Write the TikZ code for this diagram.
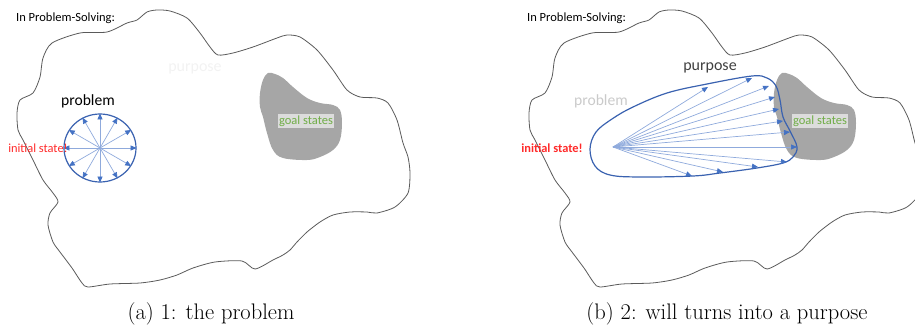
\documentclass[tikz,border=0pt]{standalone}
\usepackage{fontspec}
\newfontfamily\carl{Carlito}
\usetikzlibrary{arrows.meta,shapes.geometric}
\definecolor{outl}{HTML}{5A5A5A}
\definecolor{bdark}{HTML}{3A62B0}
\definecolor{blight}{HTML}{8FAADC}
\definecolor{btip}{HTML}{4472C4}
\definecolor{goalgray}{HTML}{A6A6A6}
\definecolor{goalbox}{HTML}{DCDCDC}
\definecolor{goalgreen}{HTML}{70AD47}
\definecolor{initred}{HTML}{FF2A2A}
\definecolor{faintgray}{HTML}{F2F2F2}
\definecolor{midgray}{HTML}{CACACA}
\definecolor{darkgray}{HTML}{404040}
\begin{document}
\begin{tikzpicture}[x=1pt,y=-1pt,
  outline/.style={draw=outl, line width=0.8pt},
  fanarrow/.style={draw=blight, line width=0.7pt, -{Triangle[length=6pt,width=5pt,color=btip]}},
  blueline/.style={draw=bdark, line width=1.2pt},
  goalblob/.style={fill=goalgray},
  sanslabel/.style={inner sep=0pt, font=\carl\fontsize{#1}{#1}\selectfont},
  goallabel/.style={fill=goalbox, text=goalgreen, inner sep=1.5pt, font=\carl\fontsize{12.5}{14}\selectfont},
  caption/.style={anchor=base, inner sep=0pt, font=\fontsize{22.5}{27}\selectfont}
]
\useasboundingbox (0,0) rectangle (915,324);
\begin{scope}
\clip (0,0) rectangle (915,324);
% outer outlines (same shape twice)
\foreach \dx in {0,512}{
\begin{scope}[xshift=\dx pt]
\draw[outline] plot[smooth cycle, tension=0.45] coordinates {
(52,43) (80,33) (107,32) (127,23) (137,20) (147,12) (157,10) (170,11) (187,18) (200,33) (210,47) (218,55) (233,53) (253,47) (277,38) (287,35) (300,37) (317,50) (333,70) (347,90) (360,97) (377,98) (388,103) (397,120) (403,143) (408,157) (410,173) (408,193) (395,207) (377,213) (367,212) (350,212) (333,215) (320,222) (307,232) (297,242) (290,250) (283,255) (273,260) (255,269) (242,261) (215,262) (193,268) (177,275) (160,280) (140,283) (110,284) (88,287) (82,283) (72,268) (60,252) (53,242) (48,225) (50,213) (58,202) (53,193) (43,180) (33,160) (23,140) (18,130) (17,113) (20,100) (33,93) (40,77) (43,58)};
\end{scope}}
% goal blobs
\foreach \dx in {0,514}{
\begin{scope}[xshift=\dx pt]
\fill[goalblob] plot[smooth cycle, tension=0.6] coordinates {
(268,73) (263,80) (260,93) (260,107) (263,117) (267,133) (273,150) (283,158) (307,160) (320,157) (333,150) (340,140) (342,123) (340,110) (333,105) (320,103) (307,98) (293,87) (283,78) (275,74)};
\end{scope}}
\end{scope}
% ---------- left panel ----------
\node[sanslabel=12.5, anchor=west] (ps1) at (16,18) {In Problem-Solving:};
\node[sanslabel=16, text=faintgray] (pur1) at (195,69) {purpose};
\node[sanslabel=15.6] (prob1) at (88,101) {problem};
\node[goallabel] (goal1) at (306,121) {goal states};
\node[draw=bdark, line width=1.2pt, ellipse, minimum width=72pt, minimum height=68pt, inner sep=0pt] (circ) at (100,148) {};
\foreach \a in {0,30,...,330}{
  \draw[fanarrow] (circ.center) -- (circ.\a);
}
\node[sanslabel=12.4, text=initred] (init1) at (38,148) {initial state!};
% ---------- right panel ----------
\node[sanslabel=12.5, anchor=west] (ps2) at (527,18) {In Problem-Solving:};
\node[sanslabel=16, text=darkgray] (pur2) at (710,68) {purpose};
\node[sanslabel=15.6, text=midgray] (prob2) at (601,101) {problem};
\node[goallabel] (goal2) at (820,121) {goal states};
\draw[blueline] plot[smooth cycle, tension=0.6] coordinates {
(590,149) (596,132) (612,119) (633,107) (667,93) (707,84) (752,76) (767,78) (776,86) (780,100) (783,117) (790,131) (797,147) (793,157) (783,163) (757,168) (720,173) (693,176) (640,177) (610,175) (595,166)};
\coordinate (o2) at (613,147);
\coordinate (f1) at (708,87);
\coordinate (f2) at (752,78);
\coordinate (f3) at (769,86);
\coordinate (f4) at (775,97);
\coordinate (f5) at (779,109);
\coordinate (f6) at (783,121);
\coordinate (f7) at (790,132);
\coordinate (f8) at (797,147);
\coordinate (f9) at (787,162);
\coordinate (f10) at (758,167);
\coordinate (f11) at (723,172);
\coordinate (f12) at (692,176);
\foreach \i in {1,...,12}{
  \draw[fanarrow] (o2) -- (f\i);
}
\node[sanslabel=12.4, text=initred, font=\carl\bfseries\fontsize{12.4}{14}\selectfont] (init2) at (552,148) {initial state!};
% ---------- captions ----------
\node[caption] (capa) at (211,319) {(a) 1: the problem};
\node[caption] (capb) at (727,319) {(b) 2: will turns into a purpose};
\end{tikzpicture}
\end{document}
